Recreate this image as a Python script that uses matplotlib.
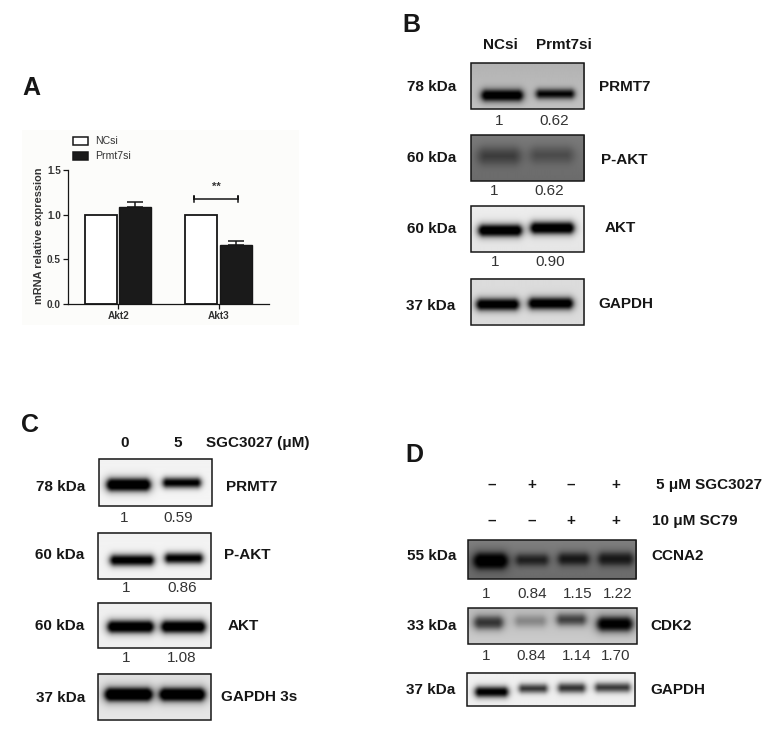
import numpy as np
import matplotlib
matplotlib.use('Agg')
import matplotlib.pyplot as plt
from matplotlib.patches import Rectangle

plt.rcParams['font.family'] = ['Liberation Sans', 'DejaVu Sans']

# panel A values
genes = ['Akt2', 'Akt3']
ncsi_values = [1.0, 1.0]
prmt7si_values = [1.09, 0.66]
prmt7si_err = [0.055, 0.05]
y_ticks = [0.0, 0.5, 1.0, 1.5]

# densitometry labels under the blots
b_ratios = [['1', '0.62'], ['1', '0.62'], ['1', '0.90']]
c_ratios = [['1', '0.59'], ['1', '0.86'], ['1', '1.08']]
d_ratios = [['1', '0.84', '1.15', '1.22'], ['1', '0.84', '1.14', '1.70']]
d_sgc = ['–', '+', '–', '+']
d_sc79 = ['–', '–', '+', '+']

W, H = 775, 740
DARK = '#161616'
GREY = '#333333'

fig = plt.figure(figsize=(W / 100, H / 100), dpi=100)
page = fig.add_axes([0, 0, 1, 1])
page.set_xlim(0, W)
page.set_ylim(H, 0)
page.axis('off')


def txt(x, y, s, size=11, bold=True, color=DARK, **kw):
    page.text(x, y, s, fontsize=size, fontweight='bold' if bold else 'normal',
              color=color, ha=kw.pop('ha', 'center'), va='center', **kw)


def blot(x0, y0, x1, y1, top, bottom, bands, lw=1.1, soft=1.5):
    # bands: (left, right, y centre, half height, strength)
    w, h = int(x1 - x0) * 2, int(y1 - y0) * 2
    xs = np.linspace(x0, x1, w)
    ys = np.linspace(y0, y1, h)
    xx, yy = np.meshgrid(xs, ys)
    bg = np.linspace(top, bottom, h)[:, None] * np.ones((h, w))
    dark = np.zeros((h, w))
    for left, right, yc, hh, s in bands:
        xc = (left + right) / 2
        hw = (right - left) / 2
        # capsule distance, soft edge plus a faint halo round the band
        dx = np.maximum(np.abs(xx - xc) - (hw - hh), 0)
        dist = np.hypot(dx, yy - yc) - hh
        core = 1 / (1 + np.exp(np.clip(dist / soft, -30, 30)))
        halo = np.exp(-(np.maximum(dist, 0) / (hh * 0.9 + 1)) ** 2)
        dark += s * core + 0.16 * s * halo
    img = np.clip(bg * (1 - np.clip(dark, 0, 1)), 0, 1)
    page.imshow(img, cmap='gray', vmin=0, vmax=1, extent=(x0, x1, y1, y0),
                interpolation='bilinear', aspect='auto', zorder=1)
    page.add_patch(Rectangle((x0, y0), x1 - x0, y1 - y0, fill=False,
                             ec='#161616', lw=lw, zorder=2))


# panel letters
txt(31, 88, 'A', size=18)
txt(411, 25, 'B', size=18)
txt(30, 425, 'C', size=18)
txt(414, 455, 'D', size=18)

# ---------- A ----------
page.add_patch(Rectangle((22, 130), 277, 195, fc='#fcfcfa', ec='none', zorder=0))

ax = fig.add_axes([68 / W, 1 - 304 / H, 201 / W, 134 / H])
ax.patch.set_alpha(0)
x = np.arange(len(genes))
bw = 0.32
ax.bar(x - 0.173, ncsi_values, bw, fc='white', ec=DARK, lw=1.3)
ax.bar(x + 0.17, prmt7si_values, bw, fc='#1a1a1a', ec=DARK, lw=1.0,
       yerr=[[0, 0], prmt7si_err], ecolor=DARK,
       error_kw=dict(elinewidth=1.1, capsize=6, capthick=1.1))
ax.plot([0.755, 0.755, 0.755, 1.195, 1.195, 1.195], [1.14, 1.21, 1.175, 1.175, 1.21, 1.14],
        color=DARK, lw=1.1, clip_on=False)
ax.text(0.98, 1.31, '**', ha='center', va='center', fontsize=8, fontweight='bold', color=GREY)
ax.set_xlim(-0.5, 1.5)
ax.set_ylim(0, 1.5)
ax.set_xticks(x)
ax.set_xticklabels(genes, fontsize=7.2, fontweight='bold', color=GREY)
ax.set_yticks(y_ticks)
ax.set_yticklabels([f'{v:.1f}' for v in y_ticks], fontsize=7.2, fontweight='bold', color=GREY)
ax.tick_params(length=3.5, width=0.9, color=DARK, pad=1.5)
for side in ['top', 'right']:
    ax.spines[side].set_visible(False)
for side in ['left', 'bottom']:
    ax.spines[side].set_linewidth(0.9)
    ax.spines[side].set_color(DARK)
page.text(39, 236, 'mRNA relative expression', rotation=90, fontsize=7.9, fontweight='bold',
          color=GREY, ha='center', va='center')
page.add_patch(Rectangle((72.5, 137), 15, 8, fc='white', ec=DARK, lw=1.1))
page.add_patch(Rectangle((72.5, 152), 15, 8, fc='#1a1a1a', ec=DARK, lw=1.1))
txt(95.5, 141, 'NCsi', size=7.6, bold=False, color=GREY, ha='left')
txt(95.5, 156, 'Prmt7si', size=7.6, bold=False, color=GREY, ha='left')

# ---------- B ----------
txt(500, 45, 'NCsi')
txt(564, 45, 'Prmt7si')
blot(470.5, 63, 584, 109, .70, .76, [(481, 522, 95.5, 5, .98), (536, 573, 94, 3.6, .94)])
blot(470.5, 135, 584, 181, .48, .42, [(479, 518, 156, 6, .46), (531, 571, 155, 5.5, .34)], soft=3)
blot(470.5, 206, 584, 252, .93, .90, [(478, 521, 230.5, 5.2, .99), (530, 573, 228, 5.2, .99)])
blot(470.5, 278.5, 584, 324.5, .86, .86, [(476, 518, 305, 5, .98), (528, 572, 304, 5, .98)])
for xx, yy, s in [(431.5, 87, '78 kDa'), (431.5, 158, '60 kDa'), (431.5, 229, '60 kDa'), (430.5, 306, '37 kDa')]:
    txt(xx, yy, s)
for xx, yy, s in [(625, 87, 'PRMT7'), (624, 160, 'P-AKT'), (620, 228, 'AKT'), (625.5, 304.5, 'GAPDH')]:
    txt(xx, yy, s)
for (a, b), yy, xa, xb in zip(b_ratios, [121, 191, 262], [499, 494, 495.5], [554, 549, 550.5]):
    txt(xa, yy, a, bold=False, color=GREY)
    txt(xb, yy, b, bold=False, color=GREY)

# ---------- C ----------
txt(124.5, 443, '0')
txt(177.5, 443, '5')
txt(257.5, 443, 'SGC3027 (μM)')
blot(98.5, 459, 211.5, 505.5, .95, .96, [(106, 150, 485.5, 5.7, .99), (163, 200, 483.5, 3.8, .98)])
blot(97.5, 532.5, 210.5, 579, .95, .95, [(110, 153, 560.5, 4.4, .98), (165, 202, 558.5, 4, .97)])
blot(97.5, 603, 210.5, 647.5, .94, .94, [(107, 153, 627.5, 5.4, .99), (161, 205, 627.5, 5.4, .99)])
blot(97.5, 673.5, 210.5, 719.5, .88, .90, [(104, 152, 695, 6.4, .99), (159, 205, 695, 6.2, .99)])
for xx, yy, s in [(60.5, 487, '78 kDa'), (60, 555, '60 kDa'), (60, 626, '60 kDa'), (60.5, 698, '37 kDa')]:
    txt(xx, yy, s)
for xx, yy, s in [(251.5, 487, 'PRMT7'), (247.5, 555, 'P-AKT'), (243, 626, 'AKT'), (259.5, 697, 'GAPDH 3s')]:
    txt(xx, yy, s)
for (a, b), yy, xa, xb in zip(c_ratios, [517.5, 588.5, 658.5], [124, 126.5, 126], [178.5, 182, 181.5]):
    txt(xa, yy, a, bold=False, color=GREY)
    txt(xb, yy, b, bold=False, color=GREY)

# ---------- D ----------
for s1, s2, xx in zip(d_sgc, d_sc79, [491.5, 531.5, 571, 615.5]):
    txt(xx, 485, s1)
    txt(xx, 521, s2)
txt(709.5, 485, '5 μM SGC3027')
txt(695, 521, '10 μM SC79')
blot(467.5, 540, 636, 579, .50, .42, [(473, 507, 561, 7.5, .95), (516, 547, 560, 4.5, .68), (558, 588, 559, 5, .74), (598, 632, 559, 5.5, .72)], soft=1.8)
blot(467.5, 608, 636.5, 644, .74, .80, [(474, 502, 622.5, 5.5, .66), (515, 545, 621, 4.5, .28), (557, 585, 619.5, 4.5, .62), (597, 632, 624, 6.5, .92)], soft=1.8)
blot(466.5, 672.5, 635, 705.5, .94, .94, [(475, 507, 692.5, 4.2, .96), (519, 546, 689, 3.2, .74), (558, 584, 688.5, 3.6, .74), (595, 629, 688, 3.4, .72)])
for xx, yy, s in [(431.5, 556.5, '55 kDa'), (431.5, 625.5, '33 kDa'), (430.5, 690.5, '37 kDa')]:
    txt(xx, yy, s)
for xx, yy, s in [(677.5, 556, 'CCNA2'), (671, 626.5, 'CDK2'), (677.5, 690.5, 'GAPDH')]:
    txt(xx, yy, s)
for labels, yy, xs in zip(d_ratios, [594, 656.5], [[486.5, 532.5, 577.5, 617.5], [486, 531.5, 576.5, 616]]):
    for s, xx in zip(labels, xs):
        txt(xx, yy, s, bold=False, color=GREY)

page.set_xlim(0, W)
page.set_ylim(H, 0)
fig.savefig('out.png', dpi=100, facecolor='white')
